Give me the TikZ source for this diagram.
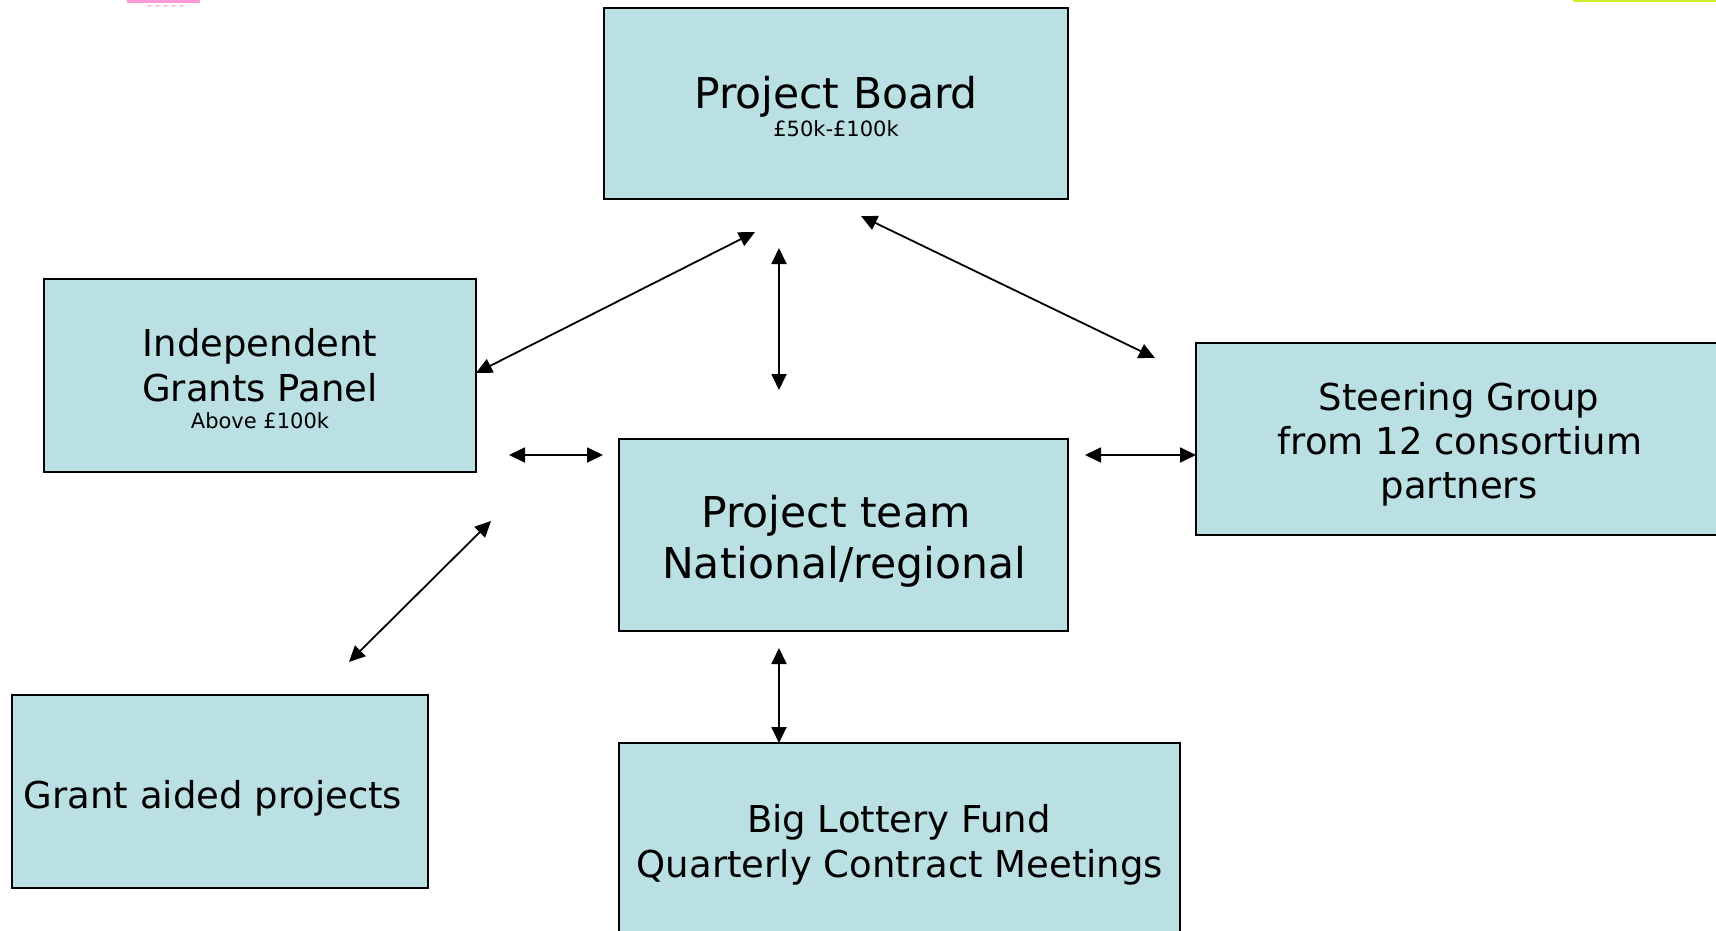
\documentclass[tikz,border=0pt]{standalone}
\usepackage{fontspec}
\setmainfont{DejaVu Sans}
\usetikzlibrary{arrows.meta}
\definecolor{boxfill}{RGB}{187,224,227}
\definecolor{pinkmark}{RGB}{255,110,200}
\definecolor{limemark}{RGB}{205,240,40}
\begin{document}
\begin{tikzpicture}[x=1pt,y=-1pt,
  box/.style={draw=black, line width=2.6pt, fill=boxfill, inner sep=0pt, outer sep=0pt, anchor=north west},
  link/.style={line width=1.8pt, {Triangle[length=16pt,width=15pt]}-{Triangle[length=16pt,width=15pt]}},
  bigtxt/.style={font=\fontsize{42.5}{51}\selectfont, anchor=base, inner sep=0pt},
  midtxt/.style={font=\fontsize{37}{45}\selectfont, anchor=base, inner sep=0pt},
  smalltxt/.style={font=\fontsize{21}{25}\selectfont, anchor=base, inner sep=0pt}]
\fill[white] (0,0) rectangle (1716,931);
\useasboundingbox (0,0) rectangle (1716,931);

% faint remnants at the top edge
\fill[pinkmark, opacity=0.7] (127,0) rectangle (200,3);
\foreach \x in {148,156,164,172,180} {\fill[pinkmark, opacity=0.5] (\x,5) rectangle ++(3,2);}
\fill[limemark] (1573,0) rectangle (1716,2);

% boxes
\node[box, minimum width=464pt, minimum height=191pt] (pb) at (604,8) {};
\node[box, minimum width=432pt, minimum height=193pt] (igp) at (44,279) {};
\node[box, minimum width=449pt, minimum height=192pt] (pt) at (619,439) {};
\node[box, minimum width=534pt, minimum height=192pt] (sg) at (1196,343) {};
\node[box, minimum width=416pt, minimum height=193pt] (gap) at (12,695) {};
\node[box, minimum width=561pt, minimum height=202pt] (blf) at (619,743) {};

% texts
\node[bigtxt] (pbt1) at (836,109) {Project Board};
\node[smalltxt] (pbt2) at (836,137) {£50k-£100k};

\node[midtxt] (igpt1) at (260,356) {Independent};
\node[midtxt] (igpt2) at (260,401) {Grants Panel};
\node[smalltxt] (igpt3) at (260,428) {Above £100k};

\node[bigtxt] (ptt1) at (836,527) {Project team};
\node[bigtxt] (ptt2) at (844,578) {National/regional};

\node[midtxt] (sgt1) at (1459,410) {Steering Group};
\node[midtxt] (sgt2) at (1460,454) {from 12 consortium};
\node[midtxt] (sgt3) at (1459,498) {partners};

\node[midtxt] (gapt1) at (213,808) {Grant aided projects};

\node[midtxt] (blft1) at (899,832) {Big Lottery Fund};
\node[midtxt] (blft2) at (900,877) {Quarterly Contract Meetings};

% arrow end points
\coordinate (a1s) at (igp.east |- 0,373);
\coordinate (a1e) at (755,232);
\coordinate (a2s) at (779,248);
\coordinate (a2e) at (779,390);
\coordinate (a3s) at (861,216);
\coordinate (a3e) at (1155,358);
\coordinate (a4s) at (509,455);
\coordinate (a4e) at (603,455);
\coordinate (a5s) at (1085,455);
\coordinate (a5e) at (sg.west |- 0,455);
\coordinate (a6s) at (491,521);
\coordinate (a6e) at (349,662);
\coordinate (a7s) at (779,648);
\coordinate (a7e) at (779,0 |- blf.north);

% connectors
\draw[link] (a1s) -- (a1e);
\draw[link] (a2s) -- (a2e);
\draw[link] (a3s) -- (a3e);
\draw[link] (a4s) -- (a4e);
\draw[link] (a5s) -- (a5e);
\draw[link] (a6s) -- (a6e);
\draw[link] (a7s) -- (a7e);
\end{tikzpicture}
\end{document}
